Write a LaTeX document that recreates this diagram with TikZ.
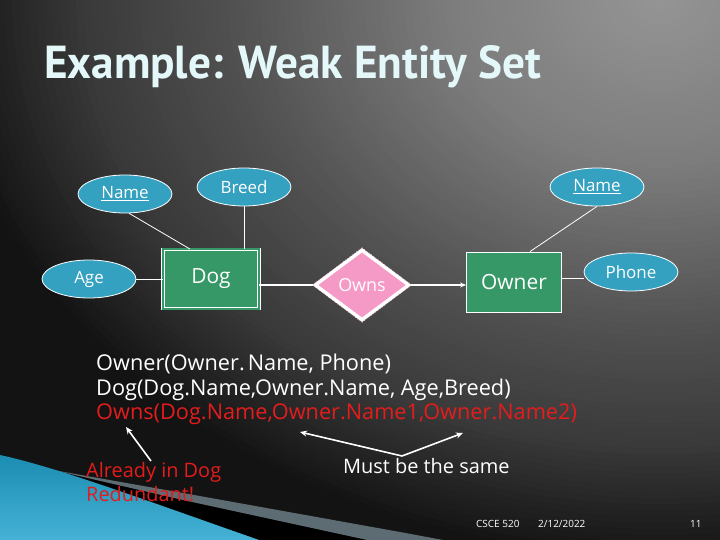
\documentclass[tikz,border=0pt]{standalone}
\usepackage{fontspec}
\setmainfont{Open Sans}
\newfontfamily\titlefont{PT Sans}
\usetikzlibrary{shapes.geometric,arrows.meta}
\definecolor{attrc}{HTML}{34A1C1}
\definecolor{entc}{HTML}{369867}
\definecolor{relc}{HTML}{F59AC6}
\definecolor{redc}{HTML}{E41C1C}
\definecolor{titlec}{HTML}{E4F8FA}
\definecolor{swgray}{HTML}{5D6B72}
\definecolor{swblueA}{HTML}{1B8DB0}
\definecolor{swblueB}{HTML}{45B2D6}
\definecolor{bgout}{gray}{0.075}
\tikzset{
  attr/.style={ellipse, draw=white, line width=0.8bp, fill=attrc, minimum width=94bp, minimum height=38bp, inner sep=0pt, text=white, font=\fontsize{17}{17}\selectfont},
  ent/.style={rectangle, draw=white, line width=0.9bp, fill=entc, inner sep=0pt, text=white, font=\fontsize{21}{21}\selectfont},
  rel/.style={diamond, fill=relc, draw=white, line width=3.5bp, inner sep=0pt, minimum width=95bp, minimum height=71bp, text=white, font=\fontsize{18}{18}\selectfont},
  conn/.style={draw=white, line width=0.8bp},
  warrow/.style={draw=white, line width=1.6bp, -{Stealth[length=7bp,width=6bp]}},
  body/.style={anchor=base west, inner sep=0pt, font=\fontsize{21.8}{22}\selectfont},
  note/.style={anchor=base west, inner sep=0pt, font=\fontsize{20}{24}\selectfont},
  foot/.style={anchor=base west, inner sep=0pt, text=white, font=\fontsize{10}{10}\selectfont}
}
\begin{document}
\begin{tikzpicture}[x=1bp,y=-1bp]
\useasboundingbox (0,0) rectangle (720,540);
\clip (0,0) rectangle (720,540);
\fill[bgout] (0,0) rectangle (720,540);
% background gradient (concentric ellipses)
\foreach \i in {0,...,89}{
  \pgfmathsetmacro{\r}{1-\i/90}
  \pgfmathsetmacro{\g}{\r<0.3 ? 0.584-0.098*\r/0.3 : (\r<0.6 ? 0.486-0.17*(\r-0.3)/0.3 : (\r<0.8 ? 0.316-0.09*(\r-0.6)/0.2 : 0.226-0.15*(\r-0.8)/0.2))}
  \definecolor{bgtmp}{gray}{\g}
  \fill[bgtmp] (660,0) ellipse [x radius=720*\r, y radius=560*\r];
}
% swoosh
\fill[black] (0,455) -- (53,470) -- (183,500) -- (372,541) -- (0,541) -- cycle;
\fill[swgray] (53,470) -- (183,493) -- (400,532) -- (470,545) -- (372,541) -- (183,500) -- cycle;
\shade[top color=swblueA, bottom color=swblueB] (0,455) .. controls (60,468) and (150,502) .. (262,541) -- (0,541) -- cycle;
% title
\node[anchor=base west, inner sep=0pt, text=titlec] (title) at (44,79) {\resizebox{497bp}{33bp}{\titlefont\bfseries Example: Weak Entity Set}};
% ER diagram
\node[attr] (dname) at (125,194) {\underline{Name}};
\node[attr] (breed) at (244,187) {Breed};
\node[attr] (age) at (89,279) {Age};
\node[ent, double=entc, double distance=2bp, minimum width=96bp, minimum height=59bp] (dog) at (211,279) {Dog};
\node[rel] (owns) at (362,285) {Owns};
\draw[relc!60!white, dotted, line width=0.8bp] (owns.north) -- (owns.east) -- (owns.south) -- (owns.west) -- cycle;
\node[ent, minimum width=95bp, minimum height=60bp] (owner) at (514,282) {Owner};
\node[attr] (oname) at (597,187) {\underline{Name}};
\node[attr] (phone) at (631,272) {Phone};
\draw[conn] (dname.-78) -- ([xshift=-21bp]dog.north);
\draw[conn] (breed.south) -- (breed.south |- dog.north);
\draw[conn] (age.east) -- (age.east -| dog.west);
\draw[conn, line width=1.2bp] (dog.east |- owns.west) -- (owns.west);
\draw[conn, line width=1.2bp, -{Stealth[length=6bp,width=5bp]}] (owns.east) -- (owns.east -| owner.west);
\draw[conn] ([xshift=16bp]owner.north) -- (oname.south);
\draw[conn] ([yshift=4bp]owner.east) -- ([yshift=4bp]owner.east -| phone.west);
% schema text
\node[body, text=white] (l1) at (96,370) {Owner(Owner.\hspace{3bp}Name, Phone)};
\node[body, text=white] (l2) at (96,395) {Dog(Dog.Name,Owner.Name, Age,Breed)};
\node[body, text=redc] (l3) at (96,419) {Owns(Dog.Name,Owner.Name1,Owner.Name2)};
% annotations
\node[note, text=redc] (already) at (86,477) {Already in Dog};
\node[note, text=redc] (redund) at (86,501) {Redundant!};
\node[note, text=white] (same) at (343,473) {Must be the same};
\coordinate (atip) at (126,427);
\coordinate (atail) at (151,461);
\draw[warrow] (atail) -- (atip);
\coordinate (mj) at (402,456);
\coordinate (mleft) at (300,432);
\coordinate (mright) at (463,433);
\draw[warrow] (mj) -- (mleft);
\draw[warrow] (mj) -- (mright);
% footer
\node[foot] (f1) at (476,527) {CSCE 520};
\node[foot] (f2) at (538,527) {2/12/2022};
\node[foot] (f3) at (690,527) {11};
\end{tikzpicture}
\end{document}
